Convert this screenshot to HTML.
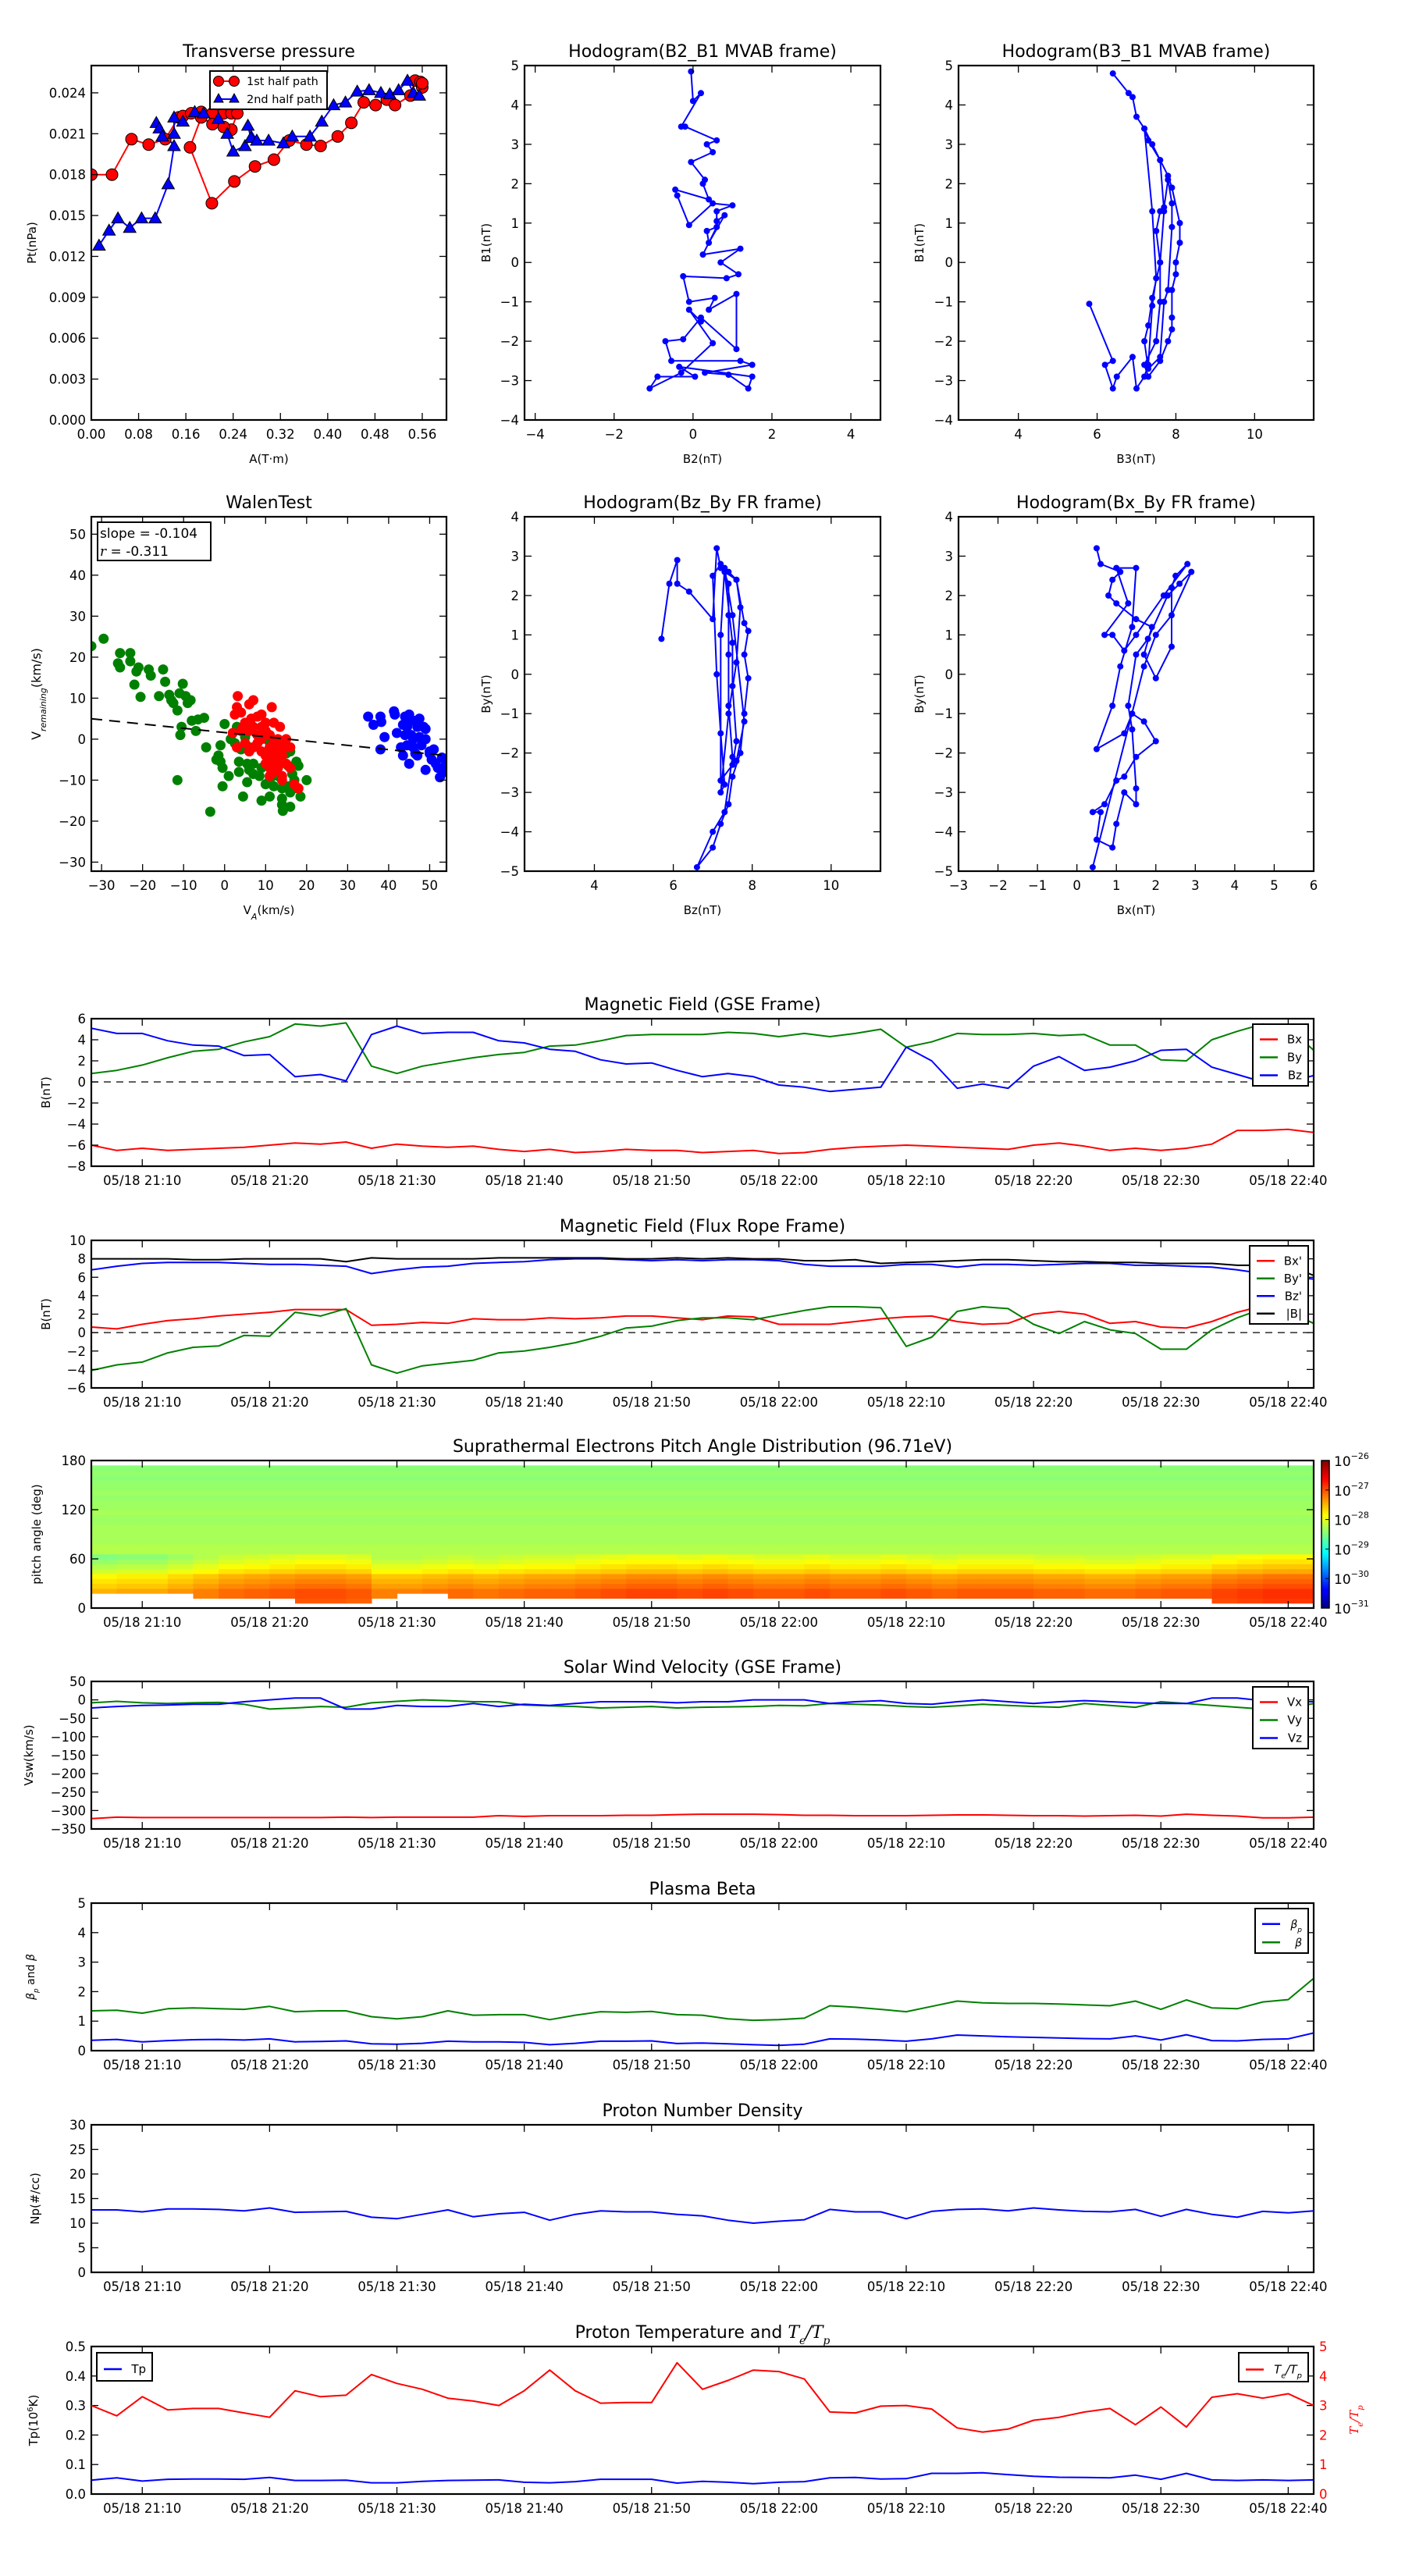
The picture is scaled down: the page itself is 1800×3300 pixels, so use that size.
<!DOCTYPE html>
<html><head><meta charset="utf-8"><title>Flux rope analysis</title>
<style>html,body{margin:0;padding:0;background:#fff}svg{display:block}</style></head>
<body>
<svg id="fig" xmlns="http://www.w3.org/2000/svg" width="1800" height="3300" viewBox="0 0 1800 3300" font-family="'DejaVu Sans','Liberation Sans',sans-serif">
<rect x="0" y="0" width="1800" height="3300" fill="#fff"/>
<defs>
<linearGradient id="jetGrad" x1="0" y1="1" x2="0" y2="0">
<stop offset="0" stop-color="#00007f"/><stop offset="0.11" stop-color="#0000ff"/><stop offset="0.125" stop-color="#0000ff"/>
<stop offset="0.34" stop-color="#00e0ff"/><stop offset="0.375" stop-color="#00ffff"/><stop offset="0.5" stop-color="#80ff80"/>
<stop offset="0.625" stop-color="#ffff00"/><stop offset="0.66" stop-color="#ffe000"/><stop offset="0.875" stop-color="#ff0000"/><stop offset="1" stop-color="#7f0000"/>
</linearGradient>
</defs>
</svg>
<script>
// ---------- time-series data (minutes since 21:06, 2-min step) ----------
const tMin=[0,2,4,6,8,10,12,14,16,18,20,22,24,26,28,30,32,34,36,38,40,42,44,46,48,50,52,54,56,58,60,62,64,66,68,70,72,74,76,78,80,82,84,86,88,90,92,94,96];
const timeTicks=[4,14,24,34,44,54,64,74,84,94];
const timeLabels=['05/18 21:10','05/18 21:20','05/18 21:30','05/18 21:40','05/18 21:50','05/18 22:00','05/18 22:10','05/18 22:20','05/18 22:30','05/18 22:40'];
const gseBx=[-6.0,-6.5,-6.3,-6.5,-6.4,-6.3,-6.2,-6.0,-5.8,-5.9,-5.7,-6.3,-5.9,-6.1,-6.2,-6.1,-6.4,-6.6,-6.4,-6.7,-6.6,-6.4,-6.5,-6.5,-6.7,-6.6,-6.5,-6.8,-6.7,-6.4,-6.2,-6.1,-6.0,-6.1,-6.2,-6.3,-6.4,-6.0,-5.8,-6.1,-6.5,-6.3,-6.5,-6.3,-5.9,-4.6,-4.6,-4.5,-4.8];
const gseBy=[0.8,1.1,1.6,2.3,2.9,3.1,3.8,4.3,5.5,5.3,5.6,1.5,0.8,1.5,1.9,2.3,2.6,2.8,3.4,3.5,3.9,4.4,4.5,4.5,4.5,4.7,4.6,4.3,4.6,4.3,4.6,5.0,3.3,3.8,4.6,4.5,4.5,4.6,4.4,4.5,3.5,3.5,2.1,2.0,4.0,4.8,5.5,5.2,3.0];
const gseBz=[5.1,4.6,4.6,3.9,3.5,3.4,2.5,2.6,0.5,0.7,0.1,4.5,5.3,4.6,4.7,4.7,3.9,3.7,3.1,2.9,2.1,1.7,1.8,1.1,0.5,0.8,0.5,-0.3,-0.5,-0.9,-0.7,-0.5,3.3,2.0,-0.6,-0.2,-0.6,1.5,2.4,1.1,1.4,2.0,3.0,3.1,1.4,0.7,0.0,0.0,0.6];
const frBx=[0.6,0.4,0.9,1.3,1.5,1.8,2.0,2.2,2.5,2.5,2.5,0.8,0.9,1.1,1.0,1.5,1.4,1.4,1.6,1.5,1.6,1.8,1.8,1.6,1.4,1.8,1.7,0.9,0.9,0.9,1.2,1.5,1.7,1.8,1.2,0.9,1.0,2.0,2.3,2.0,1.0,1.2,0.6,0.5,1.2,2.2,2.9,2.3,1.0];
const frBy=[-4.1,-3.5,-3.2,-2.2,-1.6,-1.45,-0.3,-0.4,2.2,1.8,2.6,-3.5,-4.4,-3.6,-3.3,-3.0,-2.2,-2.0,-1.6,-1.1,-0.4,0.5,0.7,1.3,1.6,1.6,1.4,1.9,2.4,2.8,2.8,2.7,-1.5,-0.5,2.3,2.8,2.6,0.9,-0.1,1.2,0.3,-0.1,-1.8,-1.8,0.3,1.6,2.6,2.2,1.0];
const frBz=[6.8,7.2,7.5,7.6,7.6,7.6,7.5,7.4,7.4,7.3,7.2,6.4,6.8,7.1,7.2,7.5,7.6,7.7,7.9,8.0,8.0,7.9,7.8,7.9,7.8,7.9,7.9,7.8,7.4,7.2,7.2,7.2,7.4,7.4,7.1,7.4,7.4,7.3,7.4,7.5,7.5,7.3,7.3,7.2,7.1,6.8,6.4,6.1,5.8];
const frBt=[8.0,8.0,8.0,8.0,7.9,7.9,8.0,8.0,8.0,8.0,7.7,8.1,8.0,8.0,8.0,8.0,8.1,8.1,8.1,8.1,8.1,8.0,8.0,8.1,8.0,8.1,8.0,8.0,7.8,7.8,7.9,7.5,7.6,7.7,7.8,7.9,7.9,7.8,7.7,7.7,7.6,7.6,7.5,7.5,7.5,7.3,7.3,7.3,6.2];
const swVx=[-322,-318,-319,-319,-319,-319,-319,-319,-319,-319,-318,-319,-318,-318,-318,-318,-314,-316,-314,-314,-314,-313,-313,-311,-310,-310,-310,-311,-313,-313,-314,-314,-314,-313,-312,-312,-313,-314,-314,-315,-314,-313,-315,-310,-313,-315,-320,-320,-318];
const swVy=[-8,-4,-8,-10,-8,-7,-12,-25,-22,-18,-20,-8,-4,0,-2,-5,-5,-14,-16,-18,-22,-20,-18,-22,-20,-19,-18,-15,-16,-10,-12,-14,-18,-20,-16,-12,-15,-18,-20,-10,-15,-20,-5,-10,-15,-20,-25,-22,-10];
const swVz=[-22,-18,-15,-14,-12,-12,-5,0,5,5,-25,-25,-15,-18,-18,-10,-18,-12,-15,-10,-5,-5,-5,-8,-5,-5,0,0,0,-10,-5,-2,-10,-12,-5,0,-5,-10,-5,-2,-5,-8,-10,-10,5,5,-2,-5,-5];
const betaTot=[1.35,1.37,1.27,1.42,1.45,1.42,1.4,1.5,1.32,1.35,1.35,1.15,1.08,1.15,1.35,1.2,1.22,1.22,1.05,1.2,1.32,1.3,1.33,1.22,1.2,1.08,1.03,1.05,1.1,1.52,1.47,1.4,1.32,1.5,1.68,1.62,1.6,1.6,1.58,1.55,1.52,1.68,1.4,1.72,1.45,1.42,1.65,1.73,2.45];
const betaP=[0.35,0.38,0.3,0.34,0.37,0.38,0.36,0.4,0.3,0.31,0.33,0.23,0.22,0.25,0.32,0.3,0.3,0.28,0.2,0.25,0.32,0.32,0.33,0.24,0.26,0.23,0.2,0.18,0.22,0.4,0.39,0.36,0.32,0.4,0.53,0.5,0.47,0.45,0.43,0.41,0.4,0.5,0.36,0.54,0.34,0.33,0.38,0.4,0.6];
const npDens=[12.7,12.7,12.3,12.9,12.9,12.8,12.5,13.1,12.2,12.3,12.4,11.2,10.9,11.8,12.7,11.3,11.9,12.2,10.6,11.8,12.5,12.3,12.3,11.8,11.5,10.6,10.0,10.4,10.7,12.8,12.3,12.3,10.9,12.4,12.8,12.9,12.5,13.1,12.7,12.4,12.3,12.8,11.4,12.8,11.8,11.2,12.4,12.1,12.5];
const tpTemp=[0.047,0.055,0.044,0.05,0.051,0.051,0.05,0.056,0.046,0.046,0.047,0.038,0.038,0.043,0.046,0.047,0.048,0.04,0.038,0.042,0.05,0.05,0.05,0.037,0.043,0.04,0.035,0.04,0.042,0.055,0.056,0.051,0.052,0.07,0.07,0.072,0.066,0.06,0.057,0.056,0.055,0.064,0.05,0.07,0.048,0.046,0.048,0.046,0.048];
const teTpRatio=[3.0,2.65,3.3,2.85,2.9,2.9,2.75,2.6,3.5,3.3,3.35,4.05,3.75,3.55,3.25,3.15,3.0,3.5,4.2,3.5,3.08,3.1,3.1,4.45,3.55,3.85,4.2,4.15,3.9,2.78,2.75,2.98,3.0,2.88,2.24,2.1,2.2,2.5,2.6,2.78,2.9,2.35,2.95,2.27,3.28,3.4,3.25,3.4,3.0];
// ---------- PAD data ----------
const padProfile=[null,-27.2,-27.15,-27.15,-27.3,-27.4,-27.5,-27.75,-27.9,-28.05,-28.15,-28.25,-28.25,-28.3,-28.3,-28.3,-28.3,-28.35,-28.35,-28.3,-28.35,-28.35,-28.4,-28.35,-28.4,-28.4,-28.45,-28.4,-28.45,null];
const padMod=[-0.35,-0.3,-0.3,-0.2,-0.1,0,0.05,0.1,0.15,0.15,0.1,-0.1,-0.1,-0.05,0,-0.05,0,0.05,0.05,0.1,0.15,0.2,0.2,0.15,0.2,0.15,0.1,0.1,0.15,0.1,0.1,0.15,0.1,0.05,0.1,0.1,0.1,0.05,0.05,0,0,0.05,0.1,0.1,0.2,0.25,0.3,0.3];
const padMinRow=[3,3,3,3,2,2,2,2,1,1,1,2,3,3,2,2,2,2,2,2,2,2,2,2,2,2,2,2,2,2,2,2,2,2,2,2,2,2,2,2,2,2,2,2,1,1,1,1];
const padTickVals=[0,60,120,180];
const cbarLabels=['-26','-27','-28','-29','-30','-31'];
// ---------- Transverse pressure ----------
const ptRedA=[0,0.035,0.068,0.097,0.125,0.148,0.155,0.169,0.186,0.205,0.224,0.237,0.247,0.237,0.224,0.205,0.186,0.167,0.204,0.242,0.277,0.309,0.335,0.364,0.388,0.417,0.44,0.461,0.481,0.5,0.514,0.54,0.548,0.557,0.56,0.56];
const ptRedP=[0.018,0.018,0.0206,0.0202,0.0206,0.0222,0.0223,0.0225,0.0226,0.0225,0.0225,0.0225,0.0225,0.0213,0.0215,0.0217,0.0222,0.0200,0.0159,0.0175,0.0186,0.0191,0.0205,0.0202,0.0201,0.0208,0.0218,0.0233,0.0231,0.0235,0.0231,0.0238,0.0249,0.0248,0.0244,0.0247];
const ptBlueA=[0.013,0.03,0.045,0.065,0.085,0.108,0.13,0.14,0.11,0.115,0.12,0.14,0.14,0.155,0.175,0.19,0.215,0.23,0.24,0.26,0.27,0.265,0.28,0.30,0.325,0.34,0.37,0.39,0.41,0.43,0.45,0.47,0.49,0.505,0.52,0.535,0.545,0.555];
const ptBlueP=[0.0128,0.0139,0.0148,0.0141,0.0148,0.0148,0.0173,0.0201,0.0218,0.0214,0.0208,0.0210,0.0222,0.0219,0.0226,0.0225,0.0221,0.0210,0.0197,0.0201,0.0207,0.0216,0.0205,0.0205,0.0203,0.0208,0.0208,0.0219,0.0231,0.0233,0.0241,0.0242,0.0240,0.0239,0.0242,0.0249,0.0240,0.0238];
// ---------- Hodograms ----------
const h1B2=[-0.05,0,0.2,-0.3,-0.2,0.6,0.35,0.5,-0.05,0.3,0.25,0.4,-0.45,-0.4,-0.1,0.5,1.0,0.6,0.6,0.8,0.4,0.35,0.6,0.25,1.2,0.7,1.15,0.85,-0.25,-0.1,0.55,0.4,1.1,1.1,0.2,-0.25,-0.7,-0.55,1.2,1.5,0.3,0.9,1.4,1.5,-0.35,0.05,-0.9,-1.1,-0.3,0.5,-0.1,0.2];
const h1B1=[4.85,4.1,4.3,3.45,3.45,3.1,3.0,2.8,2.55,2.1,2.0,1.6,1.85,1.7,0.95,1.5,1.45,1.3,1.05,1.2,0.5,0.8,0.9,0.2,0.35,0,-0.3,-0.4,-0.35,-1.0,-0.9,-1.2,-0.8,-2.2,-1.4,-1.95,-2.0,-2.5,-2.5,-2.6,-2.8,-2.85,-3.2,-2.9,-2.65,-2.9,-2.9,-3.2,-2.8,-2.05,-1.2,-1.5];
const h2B3=[6.4,6.8,6.9,7.0,7.2,7.4,7.6,7.8,7.9,8.1,8.1,8.0,8.0,7.9,7.9,7.9,7.8,7.6,7.3,7.2,7.5,7.6,7.6,7.5,7.6,7.7,7.8,7.9,7.9,7.8,7.7,7.6,7.3,7.2,7.3,7.4,7.6,7.7,7.6,7.3,7.2,7.4,7.5,7.4,7.3,7.2,7.0,6.9,6.5,6.4,6.2,6.4,5.8];
const h2B1=[4.8,4.3,4.2,3.7,3.4,3.0,2.6,2.2,1.9,1.0,0.5,0,-0.3,-0.7,-1.4,-1.7,-2.0,-2.5,-2.9,-2.6,-2.0,-1.0,0,0.8,1.3,1.4,2.1,1.5,0.9,-0.7,-1.0,-2.4,-2.7,-2.0,-1.6,-0.9,0.0,1.3,2.6,3.1,3.4,1.3,-0.4,-1.1,-2.6,-2.9,-3.2,-2.4,-2.9,-3.2,-2.6,-2.5,-1.05];
const h3Bz=[5.7,5.9,6.1,6.1,6.4,7.0,7.1,7.2,7.4,7.6,7.8,7.9,7.8,7.9,7.8,7.7,7.5,7.4,7.2,7.0,6.6,7.0,7.3,7.5,7.4,7.4,7.4,7.4,7.2,7.0,7.1,7.2,7.3,7.2,7.4,7.6,7.7,7.6,7.3,7.5,7.5,7.6,7.5,7.2,7.2,7.3,7.5,7.8,7.6];
const h3By=[0.9,2.3,2.9,2.3,2.1,1.4,3.2,2.7,2.6,2.4,1.3,1.1,0.5,-0.1,-1.0,-2.0,-2.6,-3.3,-3.8,-4.4,-4.9,-4.0,-3.5,-2.1,-0.8,0.5,1.5,2.3,2.8,2.5,0.0,-1.5,-2.8,-3.0,-1.0,0.3,1.7,2.4,2.6,0.8,-0.3,-1.7,-2.3,-2.7,1.0,2.7,1.5,-1.2,-2.2];
const h4Bx=[0.5,0.6,1.1,0.9,0.8,1.0,1.5,1.9,1.7,2.0,2.4,2.4,2.5,2.8,2.2,1.5,1.2,0.9,0.7,1.3,1.0,1.5,1.4,1.1,0.9,0.5,1.2,1.4,1.7,2.0,1.5,1.2,1.0,0.7,0.4,0.6,0.5,0.9,1.0,1.2,1.5,1.5,1.4,1.3,1.5,1.8,2.3,2.6,2.9,2.4,2.0,1.7,0.4];
const h4By=[3.2,2.8,2.6,2.4,2.0,1.8,1.4,1.2,0.5,-0.1,0.7,2.2,2.5,2.8,2.0,1.0,0.6,1.0,1.0,1.8,2.7,2.7,1.2,0.2,-0.8,-1.9,-1.5,-1.0,-1.2,-1.7,-2.1,-2.6,-2.7,-3.3,-3.5,-3.5,-4.2,-4.4,-3.8,-3.0,-3.3,-2.9,-1.4,-0.8,0.5,0.9,2.0,2.3,2.6,1.5,1.0,0.2,-4.9];
// ---------- Walen test ----------
const walenGreenX=[-32.5,-29.5,-26,-25.5,-25.5,-23,-23,-21.5,-21,-22,-20.5,-18.5,-18,-16,-15,-14.5,-13.5,-13,-12.5,-11.5,-11,-10.2,-9.5,-9,-8.3,-10.5,-10.8,-8,-6.5,-5,-7,-4.5,-1,-1.5,-2,-1,-0.5,0,1,-0.5,-11.5,-3.5,1.5,2.5,3,3.5,4,3.5,5,5.5,6,6,7,7,5.5,4.5,9,8.5,9,10,11,11,12,12,13,14,14,14,14.2,15,15.5,15.5,16,16,16,16.5,17,17,17.5,18,18.5,20,10.5];
const walenGreenY=[22.7,24.5,18.5,21,17.5,21,19,16.5,17.5,13.3,10.3,17,15.5,10.5,17,14,10.8,9.5,8.8,7,11.2,13.5,10.5,8.8,9.5,3,1,4.5,4.8,5.2,2,-2,-1.5,-4,-5,-5.5,-7,3.7,-9,-11.5,-10,-17.7,0,-1,3,-5.5,-2.5,-8,0.5,-6,-2,-7.5,-6,-8.5,-10.5,-14,-7,-9,-15,-11,-14,-10,-8,-11.5,-9,-12,-14.5,-16,-17.5,-3.5,-6.5,-11.5,-16.5,-13,-3,-8.5,-10,-12,-5.5,-6.5,-14,-10,-0.2];
const walenRedX=[3.2,3,2.5,4,6,7,6.5,5,8,9,11.5,10,12,13.5,4.5,6,7,8,9,10,11,12,13,14,15,16,3,5,6,7,8,9,10,11,12,13,14,10,11,12,13,14,15,16,14,18,17,9,10.5,12,4,2,15,13,11];
const walenRedY=[10.5,7.8,6,6.5,8.5,9.5,5,4,5.5,6,7.8,4,4,3,3,2,3,1,3,2,1,-1,0,-1,-2,-2,-2,-1,-3,-2,-1,-3,-4,-2,-5,-6,-4,-6,-7,-8,-7,-9,-6,-7,-10,-12,-11,0,-5,-3,2,1.5,0,-3,-9];
const walenBlueX=[35,36.3,38,38.2,39,38,41.3,41.5,42,43,43.5,44,44.5,45,45,45.5,46,46,46.5,47,47.5,47.5,48,48.5,49,49,49,50,50.5,51,51.5,52,52.5,53,53.5,54,44,46,44.5,47,50,43.5,45.5];
const walenBlueY=[5.5,3.5,5.5,4.2,0.5,-2.5,6.8,6,1.5,-2,-4,5.5,3,6,-6,1,4.5,-2,-3.5,3,0.5,5,-1.5,3,2.5,0,-7.5,-3,-5,-2.5,-6,-7,-9.3,-4.5,-8,-6,1,0,-1.5,-4,-3.5,3.5,4.5];
const walenSlope=-0.104, walenIntercept=1.6;

// ---------- helpers ----------
const NS='http://www.w3.org/2000/svg';
const svg=document.getElementById('fig');
let clipN=0;
function mk(tag,attrs,parent){const e=document.createElementNS(NS,tag);for(const k in attrs)e.setAttribute(k,attrs[k]);(parent||svg).appendChild(e);return e;}
function fmt(v){return String(v).replace('-','\u2212');}
function text(parent,x,y,s,size,anchor,fill){const t=mk('text',{x:x,y:y,'font-size':size,'text-anchor':anchor||'middle',fill:fill||'#000'},parent);t.textContent=s;return t;}
function makeAxes(name,L,T,W,H,xd,yd){
  const g=mk('g',{});
  
  
  const id='clip'+(clipN++);
  const cp=mk('clipPath',{id:id},g);mk('rect',{x:L,y:T,width:W,height:H},cp);
  const plot=mk('g',{'clip-path':'url(#'+id+')'},g);
  return {g,plot,L,T,W,H,sx:v=>L+(v-xd[0])/(xd[1]-xd[0])*W,sy:v=>T+H-(v-yd[0])/(yd[1]-yd[0])*H};
}
function frame(a){const r=mk('rect',{x:a.L,y:a.T,width:a.W,height:a.H,fill:'none',stroke:'#000','stroke-width':2.2},a.g);}
function title(a,s){const t=text(a.g,a.L+a.W/2,a.T-11,s,22);return t;}
function xTicks(a,vals,labels,size){vals.forEach((v,i)=>{const x=a.sx(v);
  mk('line',{x1:x,x2:x,y1:a.T+a.H,y2:a.T+a.H-9,stroke:'#000','stroke-width':1.3},a.g);
  mk('line',{x1:x,x2:x,y1:a.T,y2:a.T+9,stroke:'#000','stroke-width':1.3},a.g);
  if(labels){const t=text(a.g,x,a.T+a.H+24,labels[i],size||16.5);}});}
function yTicks(a,vals,labels,opt){opt=opt||{};vals.forEach((v,i)=>{const y=a.sy(v);
  if(!opt.noLeft)mk('line',{x1:a.L,x2:a.L+9,y1:y,y2:y,stroke:'#000','stroke-width':1.3},a.g);
  mk('line',{x1:a.L+a.W,x2:a.L+a.W-9,y1:y,y2:y,stroke:'#000','stroke-width':1.3},a.g);
  if(labels){const t=opt.right?text(a.g,a.L+a.W+7,y+6,labels[i],16.5,'start',opt.color):text(a.g,a.L-7,y+6,labels[i],16.5,'end');}});}
function yLabel(a,x,s,size,fill){const t=mk('text',{x:x,y:a.T+a.H/2,'font-size':size||15,'text-anchor':'middle',fill:fill||'#000',transform:'rotate(-90 '+x+' '+(a.T+a.H/2)+')'},a.g);t.textContent=s;return t;}
function xLabel(a,s){const t=text(a.g,a.L+a.W/2,a.T+a.H+55,s,15);return t;}
function line(a,xs,ys,color,name,w,dash){const n=Math.min(xs.length,ys.length);const pts=[];for(let i=0;i<n;i++)pts.push(a.sx(xs[i]).toFixed(1)+','+a.sy(ys[i]).toFixed(1));
  const p=mk('polyline',{points:pts.join(' '),fill:'none',stroke:color,'stroke-width':w||2,'stroke-linejoin':'round'},a.plot);
  if(dash)p.setAttribute('stroke-dasharray',dash);
  
  return p;}
function dots(a,xs,ys,color,r,name,stroke){const g=mk('g',{},a.plot);
  const n=Math.min(xs.length,ys.length);for(let i=0;i<n;i++){const c=mk('circle',{cx:a.sx(xs[i]),cy:a.sy(ys[i]),r:r,fill:color},g);if(stroke){c.setAttribute('stroke',stroke);c.setAttribute('stroke-width',1);}
  
  }return g;}
function tris(a,xs,ys,color,s,name){const g=mk('g',{},a.plot);
  const n=Math.min(xs.length,ys.length);for(let i=0;i<n;i++){const x=a.sx(xs[i]),y=a.sy(ys[i]);const p=mk('polygon',{points:`${x},${y-s} ${x-s},${y+s*0.75} ${x+s},${y+s*0.75}`,fill:color,stroke:'#000','stroke-width':1},g);
  
  }return g;}
function legend(parent,x,y,w,rowH,items,size){const g=mk('g',{},parent);
  mk('rect',{x:x,y:y,width:w,height:rowH*items.length+10,fill:'#fff',stroke:'#000','stroke-width':2},g);
  items.forEach((it,i)=>{const cy=y+8+rowH*(i+0.5);const e=mk('g',{},g);
    mk('line',{x1:x+9,x2:x+32,y1:cy,y2:cy,stroke:it.c,'stroke-width':2.5},e);
    const t=text(e,x+w-8,cy+5,'',size||15,'end');t.innerHTML=it.t;});return g;}
function nums(lo,hi,st){const o=[];for(let v=lo;v<=hi+1e-9;v+=st)o.push(Math.round(v*1000)/1000);return o;}

// ================= Row 1 =================
{const a=makeAxes('transverse-pressure-panel',117,84,455,454,[0,0.601],[0,0.026]);
 title(a,'Transverse pressure');
 line(a,ptRedA,ptRedP,'#ff0000','first-half-line',2);
 line(a,ptBlueA,ptBlueP,'#0000ff','second-half-line',2);
 dots(a,ptRedA,ptRedP,'#ff0000',7.5,'first-half-markers','#000');
 tris(a,ptBlueA,ptBlueP,'#0000ff',8,'second-half-markers');
 const xv=nums(0,0.56,0.08);xTicks(a,xv,xv.map(v=>v.toFixed(2)));
 const yv=nums(0,0.024,0.003);yTicks(a,yv,yv.map(v=>v.toFixed(3)));
 yLabel(a,46,'Pt(nPa)');xLabel(a,'A(T\u00b7m)');frame(a);
 const lg=mk('g',{},a.g);
 mk('rect',{x:269,y:91,width:150,height:49,fill:'#fff',stroke:'#000','stroke-width':2},lg);
 mk('line',{x1:280,x2:300,y1:104,y2:104,stroke:'#ff0000','stroke-width':2},lg);
 mk('circle',{cx:280,cy:104,r:6.5,fill:'#ff0000',stroke:'#000'},lg);mk('circle',{cx:300,cy:104,r:6.5,fill:'#ff0000',stroke:'#000'},lg);
 text(lg,316,109,'1st half path',14.5,'start');
 mk('line',{x1:280,x2:300,y1:127,y2:127,stroke:'#0000ff','stroke-width':2},lg);
 mk('polygon',{points:'280,120 274,131 286,131',fill:'#0000ff',stroke:'#000'},lg);mk('polygon',{points:'300,120 294,131 306,131',fill:'#0000ff',stroke:'#000'},lg);
 text(lg,316,132,'2nd half path',14.5,'start');}
{const a=makeAxes('hodogram-b2-b1-panel',672,84,456,454,[-4.27,4.75],[-4,5]);
 title(a,'Hodogram(B2_B1 MVAB frame)');
 line(a,h1B2,h1B1,'#0000ff','b2-b1-trace',2);dots(a,h1B2,h1B1,'#0000ff',4,'b2-b1-points');
 const xv=[-4,-2,0,2,4];xTicks(a,xv,xv.map(fmt));const yv=nums(-4,5,1);yTicks(a,yv,yv.map(fmt));
 yLabel(a,628,'B1(nT)');xLabel(a,'B2(nT)');frame(a);}
{const a=makeAxes('hodogram-b3-b1-panel',1228,84,455,454,[2.48,11.5],[-4,5]);
 title(a,'Hodogram(B3_B1 MVAB frame)');
 line(a,h2B3,h2B1,'#0000ff','b3-b1-trace',2);dots(a,h2B3,h2B1,'#0000ff',4,'b3-b1-points');
 const xv=[4,6,8,10];xTicks(a,xv,xv.map(fmt));const yv=nums(-4,5,1);yTicks(a,yv,yv.map(fmt));
 yLabel(a,1183,'B1(nT)');xLabel(a,'B3(nT)');frame(a);}
// ================= Row 2 =================
{const a=makeAxes('walen-test-panel',117,662,455,454,[-32.5,54.1],[-32.2,54.25]);
 title(a,'WalenTest');
 dots(a,walenGreenX,walenGreenY,'#008000',6.5,'walen-green-points');
 dots(a,walenRedX,walenRedY,'#ff0000',6.5,'walen-red-points');
 dots(a,walenBlueX,walenBlueY,'#0000ff',6.5,'walen-blue-points');
 const fx=[-32.5,54.1];const fy=fx.map(v=>walenSlope*v+walenIntercept);
 line(a,fx,fy,'#000','walen-fit-line',2,'14 9');
 const xv=nums(-30,50,10);xTicks(a,xv,xv.map(fmt));const yv=nums(-30,50,10);yTicks(a,yv,yv.map(fmt));
 const yl=yLabel(a,52,'',16);yl.innerHTML='V<tspan font-size="11" font-style="italic" baseline-shift="sub">remaining</tspan>(km/s)';
 const xl=xLabel(a,'');xl.innerHTML='V<tspan font-size="11" font-style="italic" baseline-shift="sub">A</tspan>(km/s)';
 frame(a);
 const bx=mk('g',{},a.g);
 mk('rect',{x:125,y:669,width:145,height:49,fill:'#fff',stroke:'#000','stroke-width':2},bx);
 text(bx,128,689,'slope = -0.104',17,'start');
 const t2=text(bx,128,712,'',17,'start');t2.innerHTML='<tspan font-style="italic" font-family="\'DejaVu Serif\',serif">r</tspan> = -0.311';}
{const a=makeAxes('hodogram-bz-by-panel',672,662,456,454,[2.23,11.25],[-5,4]);
 title(a,'Hodogram(Bz_By FR frame)');
 line(a,h3Bz,h3By,'#0000ff','bz-by-trace',2);dots(a,h3Bz,h3By,'#0000ff',4,'bz-by-points');
 const xv=[4,6,8,10];xTicks(a,xv,xv.map(fmt));const yv=nums(-5,4,1);yTicks(a,yv,yv.map(fmt));
 yLabel(a,628,'By(nT)');xLabel(a,'Bz(nT)');frame(a);}
{const a=makeAxes('hodogram-bx-by-panel',1228,662,455,454,[-3,6],[-5,4]);
 title(a,'Hodogram(Bx_By FR frame)');
 line(a,h4Bx,h4By,'#0000ff','bx-by-trace',2);dots(a,h4Bx,h4By,'#0000ff',4,'bx-by-points');
 const xv=nums(-3,6,1);xTicks(a,xv,xv.map(fmt));const yv=nums(-5,4,1);yTicks(a,yv,yv.map(fmt));
 yLabel(a,1183,'By(nT)');xLabel(a,'Bx(nT)');frame(a);}

// ================= Time series =================
const TL=117,TW=1566,TH=189;
function tsAxes(name,T,yd){return makeAxes(name,TL,T,TW,TH,[0,96],yd);}
{const a=tsAxes('gse-field-panel',1305,[-8,6]);title(a,'Magnetic Field (GSE Frame)');
 line(a,[0,96],[0,0],'#000','zero-line',1.3,'9 7');
 line(a,tMin,gseBx,'#ff0000','bx-line');line(a,tMin,gseBy,'#008000','by-line');line(a,tMin,gseBz,'#0000ff','bz-line');
 xTicks(a,timeTicks,timeLabels);const yv=nums(-8,6,2);yTicks(a,yv,yv.map(fmt));yLabel(a,64,'B(nT)');frame(a);
 legend(a.g,1605,1312,71,23,[{c:'#ff0000',t:'Bx'},{c:'#008000',t:'By'},{c:'#0000ff',t:'Bz'}]);}
{const a=tsAxes('flux-rope-field-panel',1589,[-6,10]);title(a,'Magnetic Field (Flux Rope Frame)');
 line(a,[0,96],[0,0],'#000','zero-line',1.3,'9 7');
 line(a,tMin,frBx,'#ff0000','bx-prime-line');line(a,tMin,frBy,'#008000','by-prime-line');line(a,tMin,frBz,'#0000ff','bz-prime-line');line(a,tMin,frBt,'#000','b-magnitude-line');
 xTicks(a,timeTicks,timeLabels);const yv=nums(-6,10,2);yTicks(a,yv,yv.map(fmt));yLabel(a,64,'B(nT)');frame(a);
 legend(a.g,1601,1596,75,22.5,[{c:'#ff0000',t:"Bx'"},{c:'#008000',t:"By'"},{c:'#0000ff',t:"Bz'"},{c:'#000',t:'|B|'}]);}
function jet(v){v=Math.max(0,Math.min(1,v));const c=x=>Math.round(255*Math.max(0,Math.min(1,x)));return `rgb(${c(1.5-Math.abs(4*v-3))},${c(1.5-Math.abs(4*v-2))},${c(1.5-Math.abs(4*v-1))})`;}
{const a=tsAxes('pitch-angle-panel',1871,[0,180]);title(a,'Suprathermal Electrons Pitch Angle Distribution (96.71eV)');
 const hg=mk('g',{},a.plot);
 const nr=padProfile.length,nc=padMod.length,dt=96/nc,da=180/nr;
 for(let c=0;c<nc;c++){for(let r=0;r<nr;r++){const p=padProfile[r];if(p===null||r<padMinRow[c])continue;
   const val=p+(r<11?padMod[c]:0);const x0=a.sx(c*dt),x1=a.sx((c+1)*dt),y0=a.sy((r+1)*da),y1=a.sy(r*da);
   const cell=mk('rect',{x:x0.toFixed(1),y:y0.toFixed(1),width:(x1-x0+0.6).toFixed(1),height:(y1-y0+0.6).toFixed(1),fill:jet((val+31)/5)},hg);
   
   }}
 xTicks(a,timeTicks,timeLabels);yTicks(a,padTickVals,padTickVals.map(String));yLabel(a,52,'pitch angle (deg)');frame(a);
 const cb=mk('g',{});
 mk('rect',{x:1693,y:1871,width:10,height:189,fill:'url(#jetGrad)',stroke:'#000','stroke-width':1.5},cb);
 cbarLabels.forEach((s,i)=>{const y=1871+i*189/5;mk('line',{x1:1698,x2:1703,y1:y,y2:y,stroke:'#000'},cb);
   const t=text(cb,1709,y+7,'',17,'start');t.innerHTML='10<tspan font-size="11" dy="-9">'+fmt(s)+'</tspan>';});}
{const a=tsAxes('solar-wind-velocity-panel',2154,[-350,50]);title(a,'Solar Wind Velocity (GSE Frame)');
 line(a,tMin,swVx,'#ff0000','vx-line');line(a,tMin,swVy,'#008000','vy-line');line(a,tMin,swVz,'#0000ff','vz-line');
 xTicks(a,timeTicks,timeLabels);const yv=nums(-350,50,50);yTicks(a,yv,yv.map(fmt));yLabel(a,42,'Vsw(km/s)');frame(a);
 legend(a.g,1605,2161,71,23,[{c:'#ff0000',t:'Vx'},{c:'#008000',t:'Vy'},{c:'#0000ff',t:'Vz'}]);}
{const a=tsAxes('plasma-beta-panel',2438,[0,5]);title(a,'Plasma Beta');
 line(a,tMin,betaTot,'#008000','beta-line');line(a,tMin,betaP,'#0000ff','beta-p-line');
 xTicks(a,timeTicks,timeLabels);const yv=nums(0,5,1);yTicks(a,yv,yv.map(String));
 const yl=yLabel(a,44,'',14);yl.innerHTML='<tspan font-style="italic">\u03b2<tspan font-size="9" baseline-shift="sub">p</tspan></tspan> and <tspan font-style="italic">\u03b2</tspan>';frame(a);
 legend(a.g,1608,2445,68,23.5,[{c:'#0000ff',t:'<tspan font-style="italic">\u03b2<tspan font-size="9" baseline-shift="sub">p</tspan></tspan>'},{c:'#008000',t:'<tspan font-style="italic">\u03b2</tspan>'}],14);}
{const a=tsAxes('proton-density-panel',2722,[0,30]);title(a,'Proton Number Density');
 line(a,tMin,npDens,'#0000ff','density-line');
 xTicks(a,timeTicks,timeLabels);const yv=nums(0,30,5);yTicks(a,yv,yv.map(String));yLabel(a,50,'Np(#/cc)');frame(a);}
{const a=tsAxes('proton-temperature-panel',3006,[0,0.5]);
 const t=title(a,'');t.innerHTML='Proton Temperature and <tspan font-style="italic" font-family="\'DejaVu Serif\',serif">T<tspan font-size="14" baseline-shift="sub">e</tspan>/T<tspan font-size="14" baseline-shift="sub">p</tspan></tspan>';
 const b=makeAxes('te-tp-axis',TL,3006,TW,TH,[0,96],[0,5]);
 line(a,tMin,tpTemp,'#0000ff','tp-line');line(b,tMin,teTpRatio,'#ff0000','te-tp-line');
 xTicks(a,timeTicks,timeLabels);const yv=nums(0,0.5,0.1);yTicks(a,yv,yv.map(v=>v.toFixed(1)));
 const rv=nums(0,5,1);rv.forEach(v=>{const y=b.sy(v);const tt=text(b.g,TL+TW+7,y+6,String(v),16.5,'start','#ff0000');});
 const yl=yLabel(a,48,'',15);yl.innerHTML='Tp(10<tspan font-size="10" dy="-6">6</tspan><tspan dy="6">K)</tspan>';
 const yr=mk('text',{x:1740,y:3100,'font-size':15,'text-anchor':'middle',fill:'#ff0000','font-style':'italic','font-family':"'DejaVu Serif',serif",transform:'rotate(-90 1740 3100)'},b.g);yr.innerHTML='T<tspan font-size="10" baseline-shift="sub">e</tspan>/T<tspan font-size="10" baseline-shift="sub">p</tspan>';
 
 
 frame(a);
 legend(a.g,124,3014,71,26,[{c:'#0000ff',t:'Tp'}]);
 legend(a.g,1587,3014,89,27,[{c:'#ff0000',t:'<tspan font-style="italic">T<tspan font-size="10" baseline-shift="sub">e</tspan>/T<tspan font-size="10" baseline-shift="sub">p</tspan></tspan>'}]);}
</script>
</body></html>
